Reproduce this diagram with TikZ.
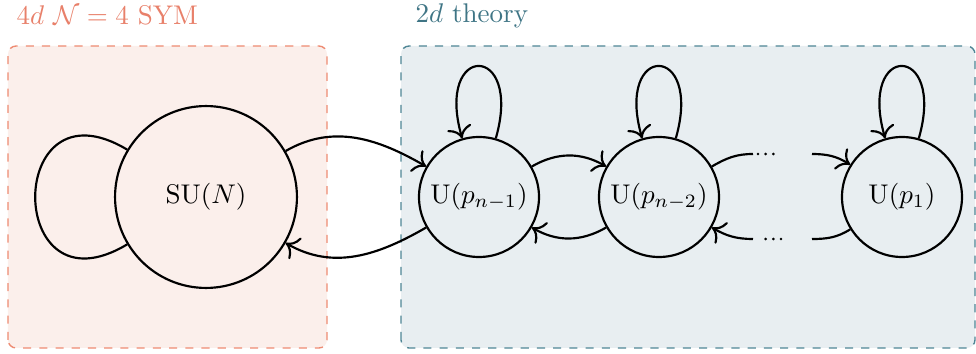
\documentclass[tikz,border=0pt]{standalone}
\usetikzlibrary{arrows.meta}
\definecolor{lfill}{HTML}{FBEFEB}
\definecolor{ldraw}{HTML}{EE8B72}
\definecolor{ltext}{HTML}{E8806A}
\definecolor{rfill}{HTML}{E8EEF1}
\definecolor{rdraw}{HTML}{4F8695}
\definecolor{rtext}{HTML}{3F7585}
\tikzset{
  gauge/.style={circle, draw, line width=0.8pt, inner sep=0pt},
  bigg/.style={gauge, minimum size=67.3pt},
  smallg/.style={gauge, minimum size=44.4pt},
  conn/.style={line width=0.8pt, -{To[scale=1.3]}},
  plainconn/.style={line width=0.8pt},
  dotsline/.style={line width=1.1pt, line cap=round, dash pattern=on 0pt off 2.85pt},
  region/.style={line width=0.5pt, dashed, rounded corners=3pt},
}
\begin{document}
\begin{tikzpicture}[x=0.37pt,y=0.37pt]
\useasboundingbox (0,0) rectangle (976,354);
% regions
\draw[region, draw=ldraw, fill=lfill] (8,6) rectangle (327,308);
\draw[region, draw=rdraw, fill=rfill] (401,6) rectangle (975,308);
\node[anchor=base west, text=ltext, inner sep=0pt] (t4) at (16,329) {$4d$ $\mathcal{N}=4$ SYM};
\node[anchor=base west, text=rtext, inner sep=0pt] (t2) at (415,331) {$2d$ theory};
% nodes
\node[bigg] (su) at (206,157) {SU$(N)$};
\node[smallg] (u1) at (479,157) {U$(p_{n-1})$};
\node[smallg] (u2) at (659,157) {U$(p_{n-2})$};
\node[smallg] (u3) at (902,157) {U$(p_{1})$};
% self loops
\draw[plainconn] (su.149) .. controls +(149:143) and +(211:143) .. (su.211);
\foreach \n in {u1,u2,u3}{
  \draw[conn] (\n.74) .. controls +(74:100) and +(106:100) .. (\n.106);
}
% edges SU <-> U1
\draw[conn] (su) to[out=30,in=150] (u1);
\draw[conn] (u1) to[out=210,in=-30] (su);
% edges U1 <-> U2
\draw[conn] (u1) to[out=30,in=150] (u2);
\draw[conn] (u2) to[out=210,in=-30] (u1);
% edges U2 <-> dots <-> U3
\coordinate (a1) at (753,200);
\coordinate (a2) at (758,200);
\coordinate (a3) at (781,200);
\coordinate (a4) at (812,200);
\coordinate (b1) at (753,115);
\coordinate (b2) at (758,115);
\coordinate (b3) at (781,115);
\coordinate (b4) at (812,115);
\draw[plainconn] (u2) to[out=30,in=180] (a1);
\draw[dotsline] (a2) -- (a3);
\draw[conn] (a4) to[out=0,in=148] (u3);
\draw[plainconn] (u3) to[out=212,in=0] (b4);
\draw[dotsline] (b3) -- (b2);
\draw[conn] (b1) to[out=180,in=-30] (u2);
\end{tikzpicture}
\end{document}
